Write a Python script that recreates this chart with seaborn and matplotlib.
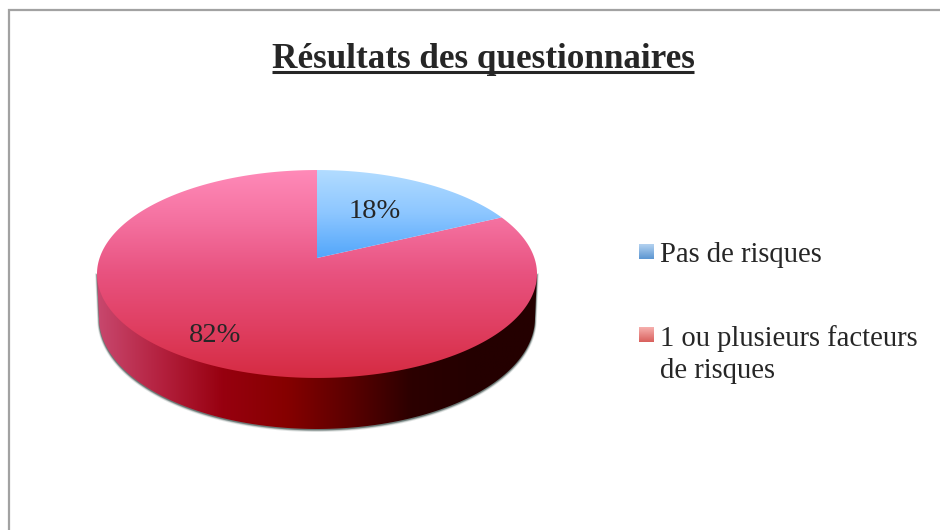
import numpy as np
import matplotlib
matplotlib.use("Agg")
import matplotlib.pyplot as plt
from matplotlib.patches import PathPatch
from matplotlib.path import Path
import seaborn as sns

title = "Résultats des questionnaires"
categories = [["Pas de risques"], ["1 ou plusieurs facteurs", "de risques"]]
percentages = [18, 82]

sns.set_theme(style="white")
plt.rcParams["font.family"] = ["Liberation Serif", "DejaVu Serif"]
TEXT = "#262626"

fig = plt.figure(figsize=(9.4, 5.3), dpi=100, facecolor="white")
ax = fig.add_axes([0, 0, 1, 1])
ax.set_xlim(0, 940)
ax.set_ylim(530, 0)
ax.set_axis_off()

# Slice angles come from the library's own pie layout, on a hidden axes.
helper = fig.add_axes([0, 0, 0.1, 0.1])
wedges, _ = helper.pie(percentages, startangle=90, counterclock=False)
helper.set_visible(False)

# Perspective view of the unit disc.
CX, CY = 317.0, 258.0
K, A, B = 0.1538, 101.5, 217.4


def project(u, v):
    d = 1 + K * v
    return CX + B * u / d, CY - A * v / d


def slice_path(w):
    t = np.radians(np.linspace(w.theta1, w.theta2, 240))
    x, y = project(np.cos(t), np.sin(t))
    cx, cy = project(0.0, 0.0)
    verts = np.column_stack([np.r_[cx, x, cx], np.r_[cy, y, cy]])
    return Path(verts, closed=True)


def gradient(path, stops, box, horizontal=False, z=3):
    x0, x1, y0, y1 = box
    ramp = np.linspace(0, 1, 256)
    data = ramp[None, :] if horizontal else ramp[:, None]
    cmap = sns.blend_palette(stops, as_cmap=True)
    im = ax.imshow(data, cmap=cmap, extent=[x0, x1, y1, y0], aspect="auto",
                   origin="upper", zorder=z, interpolation="bilinear", vmin=0, vmax=1)
    patch = PathPatch(path, transform=ax.transData, facecolor="none", edgecolor="none")
    ax.add_patch(patch)
    im.set_clip_path(patch)
    return im


# Side wall and its thin soft shadow.
t = np.radians(np.linspace(180, 360, 300))
wall_x = 317.0 + 218.0 * np.cos(t)
wall_y = 318.0 - 111.0 * np.sin(t)
wall = np.column_stack([np.r_[97.0, wall_x, 537.0, 97.0], np.r_[274.0, wall_y, 274.0, 274.0]])
wall_path = Path(wall, closed=True)
for off, lw, alpha in [(1.2, 2.6, 0.18), (1.0, 1.6, 0.35), (0.8, 0.9, 0.6)]:
    shadow = Path(wall + np.array([0.0, off]), closed=True)
    ax.add_patch(PathPatch(shadow, facecolor="#5f6f6c", edgecolor="#5f6f6c",
                           linewidth=lw, alpha=alpha, zorder=1))
gradient(wall_path,
         ["#c8486e", "#b4213f", "#97000f", "#860000", "#5c0000", "#2c0000", "#240000", "#240000"],
         (97, 537, 270, 432), horizontal=True, z=2)

# Top faces.
blue_path = slice_path(wedges[0])
red_path = slice_path(wedges[1])
gradient(red_path,
         ["#ff8ab8", "#f4709f", "#e8527f", "#e03f62", "#d52b42"],
         (97, 537, 170, 378), z=3)
gradient(blue_path, ["#b2dcff", "#8cc6ff", "#52a6fb"], (317, 505, 170, 258), z=4)

# Value labels.
ax.text(375, 211, f"{percentages[0]}%", ha="center", va="center", fontsize=20.5, color=TEXT, zorder=6)
ax.text(215, 336, f"{percentages[1]}%", ha="center", va="center", fontsize=20.5, color=TEXT, zorder=6)

# Title with underline.
ttl = ax.text(483, 68, title, ha="center", va="baseline", fontsize=25.3,
              fontweight="bold", color=TEXT, zorder=6)
fig.canvas.draw()
bb = ttl.get_window_extent().transformed(ax.transData.inverted())
ax.plot([min(bb.x0, bb.x1), max(bb.x0, bb.x1)], [71.5, 71.5], color=TEXT, lw=2.2,
        solid_capstyle="butt", zorder=6)

# Legend.
swatches = [(["#b4d2f0", "#5b96d2"], 244), (["#f6b0ae", "#d9605c"], 327)]
baselines = [[262], [346, 378]]
for (stops, top), lines, bases in zip(swatches, categories, baselines):
    rect = Path([(639, top), (654, top), (654, top + 15), (639, top + 15), (639, top)], closed=True)
    gradient(rect, stops, (639, 654, top, top + 15), z=5)
    for line, base in zip(lines, bases):
        ax.text(660, base, line, ha="left", va="baseline", fontsize=20.6, color=TEXT, zorder=6)

# Chart frame, open at the right and bottom.
ax.plot([9, 9, 940], [530, 10, 10], color="#a2a2a2", lw=1.6, solid_joinstyle="miter", zorder=7)

ax.set_xlim(0, 940)
ax.set_ylim(530, 0)
fig.savefig("out.png", dpi=100, facecolor="white")
